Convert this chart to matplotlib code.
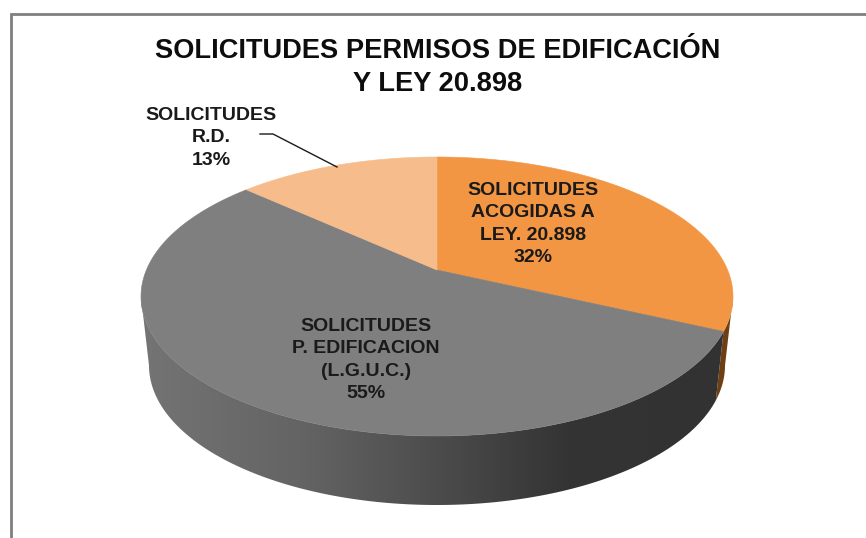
import numpy as np
import matplotlib
matplotlib.use("Agg")
import matplotlib.pyplot as plt
from matplotlib.colors import LinearSegmentedColormap
from matplotlib.patches import Polygon

title = "SOLICITUDES PERMISOS DE EDIFICACIÓN\nY LEY 20.898"
categories = ["SOLICITUDES\nACOGIDAS A\nLEY. 20.898", "SOLICITUDES\nP. EDIFICACION\n(L.G.U.C.)", "SOLICITUDES\nR.D."]
values = [31.8, 54.8, 13.4]
colors = ["#F39644", "#7F7F7F", "#F6BC8B"]

plt.rcParams["font.family"] = ["Liberation Sans", "DejaVu Sans"]
fig = plt.figure(figsize=(8.66, 5.38), dpi=100)
ax = fig.add_axes([0, 0, 1, 1])
ax.axis("off")

CX, CY, RX, RY = 437.0, 296.5, 296.0, 139.5
APEX_Y = 270.0
BCX, BCY, BRX = 437.0, 365.5, 288.0


def rim(theta):
    """Point where a ray from the apex, at clockwise angle theta from 12 o'clock, meets the top ellipse."""
    dx, dy = np.sin(theta), np.cos(theta)
    oy = (CY - APEX_Y) / RY
    s = -oy * dy + np.sqrt((oy * dy) ** 2 - (oy ** 2 - 1))
    return np.arctan2(oy + s * dy, s * dx)  # ellipse parameter


def top(t):
    return CX + RX * np.cos(t), CY - RY * np.sin(t)


def bottom(t):
    return BCX + BRX * np.cos(t), BCY - RY * np.sin(t)


fracs = np.array(values) / sum(values)
edges = np.concatenate([[0], np.cumsum(fracs)]) * 2 * np.pi
params = [rim(e) for e in edges]

# side of the orange slice
t0 = np.linspace(0, params[1], 30)
xs = np.r_[top(t0)[0], bottom(t0[::-1])[0]]
ys = np.r_[top(t0)[1], bottom(t0[::-1])[1]]
ax.add_patch(Polygon(np.c_[xs, ys], closed=True, fc="#6E3F12", ec="none", zorder=1))

# side of the grey slice, with a horizontal gradient
t1 = np.linspace(params[1], -np.pi, 200)
xs = np.r_[top(t1)[0], bottom(t1[::-1])[0]]
ys = np.r_[top(t1)[1], bottom(t1[::-1])[1]]
clip = Polygon(np.c_[xs, ys], closed=True, fc="none", ec="none", transform=ax.transData)
ax.add_patch(clip)
cmap = LinearSegmentedColormap.from_list(
    "side", [(0, "#747474"), (0.28, "#636363"), (0.52, "#4A4A4A"), (0.72, "#343434"), (1, "#323232")])
im = ax.imshow(np.linspace(0, 1, 256)[None, :], cmap=cmap, vmin=0, vmax=1, aspect="auto",
               extent=[CX - RX, CX + RX, 510, 280], zorder=2)
im.set_clip_path(clip)

# top faces
for i, c in enumerate(colors):
    a, b = params[i], params[i + 1]
    if b > a:
        b -= 2 * np.pi
    t = np.linspace(a, b, 300)
    x, y = top(t)
    ax.fill(np.r_[CX, x], np.r_[APEX_Y, y], fc=c, ec=c, lw=0.4, zorder=3)

# title and labels
ax.text(438, 67.5, title, ha="center", va="center", fontsize=19.6, fontweight="bold",
        color="#0D0D0D", linespacing=1.33, zorder=5)
pcts = [f"{v:.0f}%" for v in values]
label_pos = [(533, 224), (366, 360), (211, 138)]
for (x, y), cat, p in zip(label_pos, categories, pcts):
    ax.text(x, y, f"{cat}\n{p}", ha="center", va="center", fontsize=14, fontweight="bold",
            color="#1A1A1A", linespacing=1.43, zorder=5)

# leader line
ax.plot([260, 273, 337], [134, 134, 167], color="#1A1A1A", lw=1.0, zorder=5)

# chart frame
ax.plot([10.5, 10.5, 866], [538, 14, 14], color="#7F7F7F", lw=2.0, zorder=6, solid_joinstyle="miter")

ax.set_xlim(0, 866)
ax.set_ylim(538, 0)
fig.savefig("out.png", dpi=100, facecolor="white")
